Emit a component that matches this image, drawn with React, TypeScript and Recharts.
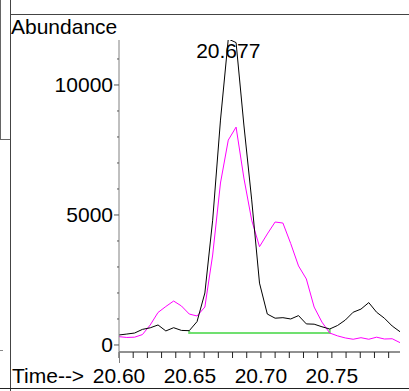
import React from "react";
import { LineChart, Line, XAxis, YAxis, LabelList } from "recharts";

// scan times (min)
const TIMES = [
  20.6, 20.6055, 20.611, 20.6165, 20.622, 20.6275, 20.633, 20.6385, 20.644, 20.6495,
  20.655, 20.6605, 20.666, 20.6715, 20.677, 20.6825, 20.688, 20.6935, 20.699, 20.7045,
  20.71, 20.7155, 20.721, 20.7265, 20.732, 20.7375, 20.743, 20.7485, 20.754, 20.7595,
  20.765, 20.7705, 20.776, 20.7815, 20.787, 20.7925, 20.798,
];

// total ion (black)
const TIC = [
  385, 420, 460, 600, 660, 770, 540, 665, 560, 550,
  900, 2000, 4800, 8650, 11770, 11630, 8460, 5580, 2380, 1190,
  1030, 1050, 1000, 1130, 810, 800, 700, 615, 750, 960,
  1260, 1380, 1630, 1260, 1030, 730, 510,
];

// extracted ion (magenta)
const ION = [
  320, 290, 300, 400, 770, 1250, 1480, 1690, 1500, 1190,
  1115, 1460, 3460, 6230, 7880, 8380, 6420, 4800, 3780, 4270,
  4730, 4690, 3900, 3040, 2540, 1460, 880, 460, 350, 270,
  220, 280, 220, 300, 230, 240, 90,
];

// integration baseline (green)
const BASE_T = [20.6495, 20.6495, 20.7485, 20.7485];
const BASE_V = [550, 460, 460, 615];

const Y_TICKS = [0, 1000, 2000, 3000, 4000, 5000, 6000, 7000, 8000, 9000, 10000, 11000];
const X_TICKS = [
  20.6, 20.61, 20.62, 20.63, 20.64, 20.65, 20.66, 20.67, 20.68, 20.69,
  20.7, 20.71, 20.72, 20.73, 20.74, 20.75, 20.76, 20.77, 20.78, 20.79,
];

const FONT = "'Liberation Sans', Arial, sans-serif";

const rows = TIMES.map((t, i) => ({ t, tic: TIC[i], ion: ION[i] }));
const baseRows = BASE_T.map((t, i) => ({ t, base: BASE_V[i] }));
const peakIdx = TIC.indexOf(Math.max(...TIC));

const YTick = (props: any) => {
  const { x, y, payload } = props;
  const major = payload.value % 5000 === 0;
  return (
    <g>
      <line x1={x - (major ? 5 : 2)} x2={x} y1={y} y2={y} stroke="#555" />
      {major && (
        <text x={x - 6} y={y} dy={7} textAnchor="end" fontSize={21} fontFamily={FONT} fill="#000">
          {payload.value}
        </text>
      )}
    </g>
  );
};

const XTick = (props: any) => {
  const { x, y, payload } = props;
  const major = Math.round(payload.value * 100) % 5 === 0;
  if (!major) return <g />;
  return (
    <text x={x} y={y} dy={23} textAnchor="middle" fontSize={21} fontFamily={FONT} fill="#000">
      {payload.value.toFixed(2)}
    </text>
  );
};

const PeakLabel = (props: any) => {
  const { x, y, index } = props;
  if (index !== peakIdx) return null;
  return (
    <text x={x} y={y + 19} textAnchor="middle" fontSize={21} fontFamily={FONT} fill="#000">
      {TIMES[peakIdx].toFixed(3)}
    </text>
  );
};

export default function App() {
  return (
    <div style={{ position: "absolute", left: 0, top: 0, width: 409, height: 391, background: "#fff" }}>
      <LineChart width={409} height={391} data={rows} margin={{ top: 40, right: 9, bottom: 9, left: 0 }}>
        <XAxis
          dataKey="t"
          type="number"
          domain={[20.6, 20.798]}
          ticks={X_TICKS}
          interval={0}
          height={30}
          tickSize={6}
          tickMargin={2}
          stroke="#222"
          tick={<XTick />}
          allowDataOverflow
        />
        <YAxis
          type="number"
          domain={[-270, 11730]}
          ticks={Y_TICKS}
          interval={0}
          width={119}
          tickSize={0}
          tickMargin={0}
          tickLine={false}
          stroke="#808080"
          tick={<YTick />}
          allowDataOverflow
        />
        <Line data={baseRows} dataKey="base" stroke="#70e070" strokeWidth={2} dot={false} isAnimationActive={false} type="linear" />
        <Line dataKey="ion" stroke="#ff00ff" strokeWidth={1} dot={false} isAnimationActive={false} type="linear" />
        <Line dataKey="tic" stroke="#000" strokeWidth={1} dot={false} isAnimationActive={false} type="linear">
          <LabelList dataKey="tic" content={<PeakLabel />} />
        </Line>
      </LineChart>
      <svg width={409} height={391} style={{ position: "absolute", left: 0, top: 0, pointerEvents: "none" }}>
        {/* window frame leftovers */}
        <line x1={10.5} x2={10.5} y1={0} y2={391} stroke="#444" />
        <line x1={10} x2={409} y1={14.5} y2={14.5} stroke="#444" />
        <line x1={0} x2={409} y1={388.5} y2={388.5} stroke="#222" />
        <line x1={0.5} x2={0.5} y1={0} y2={139} stroke="#666" />
        <line x1={0} x2={10} y1={139.5} y2={139.5} stroke="#666" />
        <line x1={0} x2={3} y1={350.5} y2={350.5} stroke="#888" />
        {/* y axis runs a little past the x axis */}
        <line x1={119.5} x2={119.5} y1={352} y2={363} stroke="#808080" />
        <text x={11} y={34} fontSize={21} fontFamily={FONT} fill="#000">Abundance</text>
        <text x={12} y={383} fontSize={21} fontFamily={FONT} fill="#000">Time--&gt;</text>
      </svg>
    </div>
  );
}
